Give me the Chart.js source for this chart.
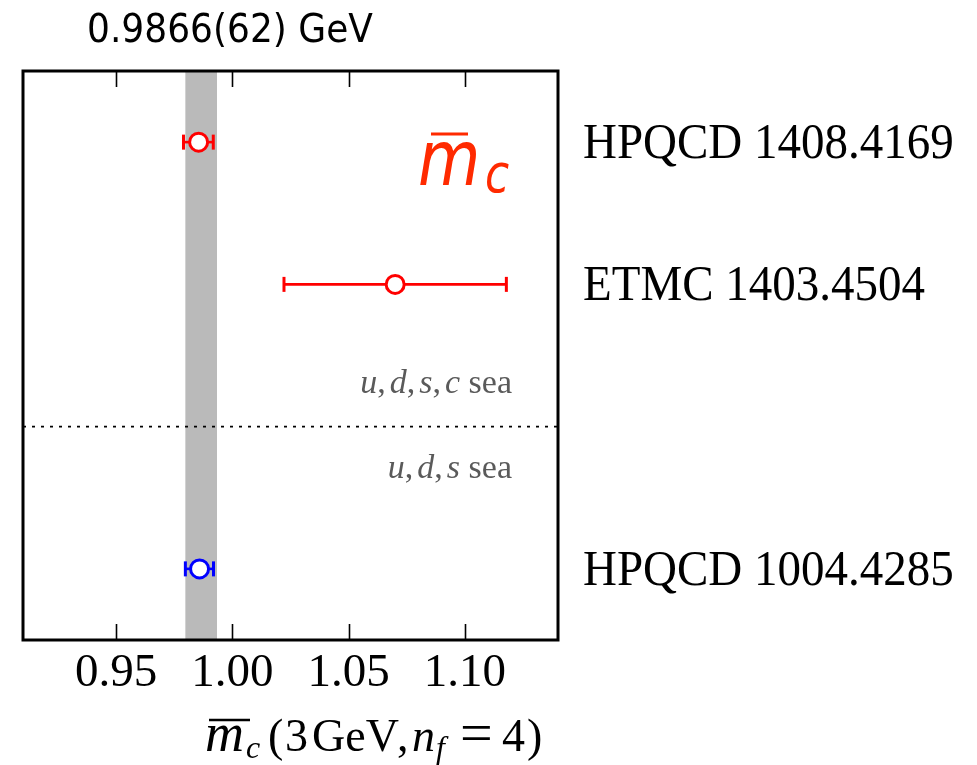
<!DOCTYPE html>
<html>
<head>
<meta charset="utf-8">
<script src="https://cdn.jsdelivr.net/npm/chart.js@4.4.1/dist/chart.umd.min.js"></script>
<style>
  html, body { margin: 0; padding: 0; background: #fff; }
  #wrap { width: 977px; height: 765px; }
</style>
</head>
<body>
<div id="wrap"><canvas id="grafico" width="977" height="765"></canvas></div>
<script>
// Datos
const etiquetas = ['HPQCD 1408.4169', 'ETMC 1403.4504', 'HPQCD 1004.4285'];
const centros = [0.9855, 1.0700, 0.9859];
const errInf = [0.9790, 1.0222, 0.9798];
const errSup = [0.9918, 1.1178, 0.9919];
const filas = [3.5, 2.5, 0.5];
const colores = ['#ff0000', '#ff0000', '#0000ff'];
const banda = [0.9798, 0.9934];          // promedio 0.9866(62)
const tituloBanda = '0.9866(62) GeV';
const xTicks = [0.95, 1.00, 1.05, 1.10];
const xRango = [0.91, 1.14];
const yRango = [0, 4];
const separador = 1.5;                   // línea entre u,d,s,c y u,d,s

const serif = '"Liberation Serif", "Times New Roman", serif';
const sans = '"DejaVu Sans", sans-serif';

function textoEstirado(ctx, txt, x, y, sy) {
    ctx.save();
    ctx.translate(x, y);
    ctx.scale(1, sy);
    ctx.fillText(txt, 0, 0);
    ctx.restore();
}

const adornos = {
    id: 'adornos',
    beforeDatasetsDraw(chart) {
        const { ctx, chartArea: a, scales: { x } } = chart;
        ctx.save();
        ctx.fillStyle = '#bababa';
        const x0 = x.getPixelForValue(banda[0]);
        const x1 = x.getPixelForValue(banda[1]);
        ctx.fillRect(x0, a.top, x1 - x0, a.bottom - a.top);
        ctx.restore();
    },
    afterDatasetsDraw(chart) {
        const { ctx, chartArea: a, scales: { x, y } } = chart;
        ctx.save();

        // Línea punteada de separación
        const ys = y.getPixelForValue(separador);
        ctx.strokeStyle = '#000';
        ctx.lineWidth = 1.6;
        ctx.setLineDash([3, 6]);
        ctx.beginPath();
        ctx.moveTo(a.left, ys);
        ctx.lineTo(a.right, ys);
        ctx.stroke();
        ctx.setLineDash([]);

        // Marcas de los ticks (arriba y abajo, hacia dentro)
        ctx.lineWidth = 1.6;
        xTicks.forEach(v => {
            const px = Math.round(x.getPixelForValue(v)) + 0.5;
            ctx.beginPath();
            ctx.moveTo(px, a.top);
            ctx.lineTo(px, a.top + 16);
            ctx.moveTo(px, a.bottom);
            ctx.lineTo(px, a.bottom - 16);
            ctx.stroke();
        });

        // Marco
        ctx.lineWidth = 3;
        ctx.strokeRect(a.left, a.top, a.right - a.left, a.bottom - a.top);

        // Etiquetas de cada resultado
        ctx.fillStyle = '#000';
        ctx.textAlign = 'left';
        ctx.textBaseline = 'alphabetic';
        ctx.font = '47px ' + serif;
        etiquetas.forEach((t, i) => {
            textoEstirado(ctx, t, 583, y.getPixelForValue(filas[i]) + 16, 1.1);
        });

        // Valor promedio arriba
        ctx.font = '36px ' + sans;
        textoEstirado(ctx, tituloBanda, 87, 42, 1.08);

        // Símbolo m_c en rojo
        ctx.fillStyle = '#ff2a00';
        ctx.strokeStyle = '#ff2a00';
        ctx.save();
        ctx.translate(418, 185);
        ctx.scale(1, 1.2);
        ctx.font = 'italic 64px ' + sans;
        ctx.fillText('m', 0, 0);
        ctx.font = 'italic 44px ' + sans;
        ctx.fillText('c', 67, 6);
        ctx.restore();
        ctx.lineWidth = 3;
        ctx.beginPath();
        ctx.moveTo(431, 134);
        ctx.lineTo(468, 134);
        ctx.stroke();

        // Textos de los mares
        ctx.fillStyle = '#5a5a5a';
        const mar = (partes, yb) => {
            const ancho = p => { ctx.font = p[1] + '34px ' + serif; return ctx.measureText(p[0]).width + (p[2] || 0); };
            let cx = 512 - partes.reduce((s, p) => s + ancho(p), 0);
            partes.forEach(p => {
                const w = ancho(p);
                ctx.fillText(p[0], cx, yb);
                cx += w;
            });
        };
        mar([['u', 'italic '], [',', '', 4], ['d', 'italic '], [',', '', 4], ['s', 'italic '], [',', '', 4], ['c', 'italic '], [' sea', '']], ys - 34);
        mar([['u', 'italic '], [',', '', 4], ['d', 'italic '], [',', '', 4], ['s', 'italic '], [' sea', '']], ys + 51);

        // Título del eje x (trozos colocados según la figura)
        ctx.fillStyle = '#000';
        ctx.strokeStyle = '#000';
        const yb = 751;
        const trozos = [
            ['m', 'italic 54px ', 205, 0],
            ['c', 'italic 32px ', 246, 7],
            ['(', '46px ', 268, 0],
            ['3', '46px ', 285, 0],
            ['GeV', '46px ', 312, 0],
            [',', '46px ', 397, 0],
            ['n', 'italic 46px ', 412, 0],
            ['f', 'italic 32px ', 436, 7],
            ['=', '58px ', 460, 1],
            ['4', '46px ', 502, 0],
            [')', '46px ', 527, 0]
        ];
        trozos.forEach(t => {
            ctx.font = t[1] + serif;
            ctx.fillText(t[0], t[2], yb + t[3]);
        });
        ctx.lineWidth = 2.5;
        ctx.beginPath();
        ctx.moveTo(209, yb - 31);
        ctx.lineTo(250, yb - 31);
        ctx.stroke();

        ctx.restore();
    }
};

const datasets = [{
    data: centros.map((c, i) => ({ x: c, y: filas[i] })),
    pointStyle: 'circle',
    pointRadius: 9,
    pointBackgroundColor: '#ffffff',
    pointBorderColor: colores,
    pointBorderWidth: 3,
    order: 0
}];

centros.forEach((c, i) => {
    datasets.push({
        data: [{ x: errInf[i], y: filas[i] }, { x: errSup[i], y: filas[i] }],
        showLine: true,
        borderColor: colores[i],
        borderWidth: 2.6,
        pointStyle: 'line',
        rotation: 90,
        pointRadius: 7.5,
        pointBorderColor: colores[i],
        pointBorderWidth: 3,
        order: 1
    });
});

new Chart(document.getElementById('grafico'), {
    type: 'scatter',
    data: { datasets },
    options: {
        responsive: false,
        devicePixelRatio: 1,
        animation: false,
        events: [],
        layout: { padding: { left: 23, right: 419, top: 71, bottom: 0 } },
        plugins: { legend: { display: false }, tooltip: { enabled: false } },
        scales: {
            x: {
                type: 'linear',
                min: xRango[0],
                max: xRango[1],
                afterBuildTicks: s => { s.ticks = xTicks.map(v => ({ value: v })); },
                afterFit: s => { s.height = 125; },
                grid: { display: false, drawTicks: false },
                border: { display: false },
                ticks: {
                    padding: 5,
                    color: '#000',
                    font: { family: serif, size: 47 },
                    maxRotation: 0,
                    callback: v => v.toFixed(2)
                }
            },
            y: { type: 'linear', min: yRango[0], max: yRango[1], display: false }
        }
    },
    plugins: [adornos]
});
</script>
</body>
</html>
